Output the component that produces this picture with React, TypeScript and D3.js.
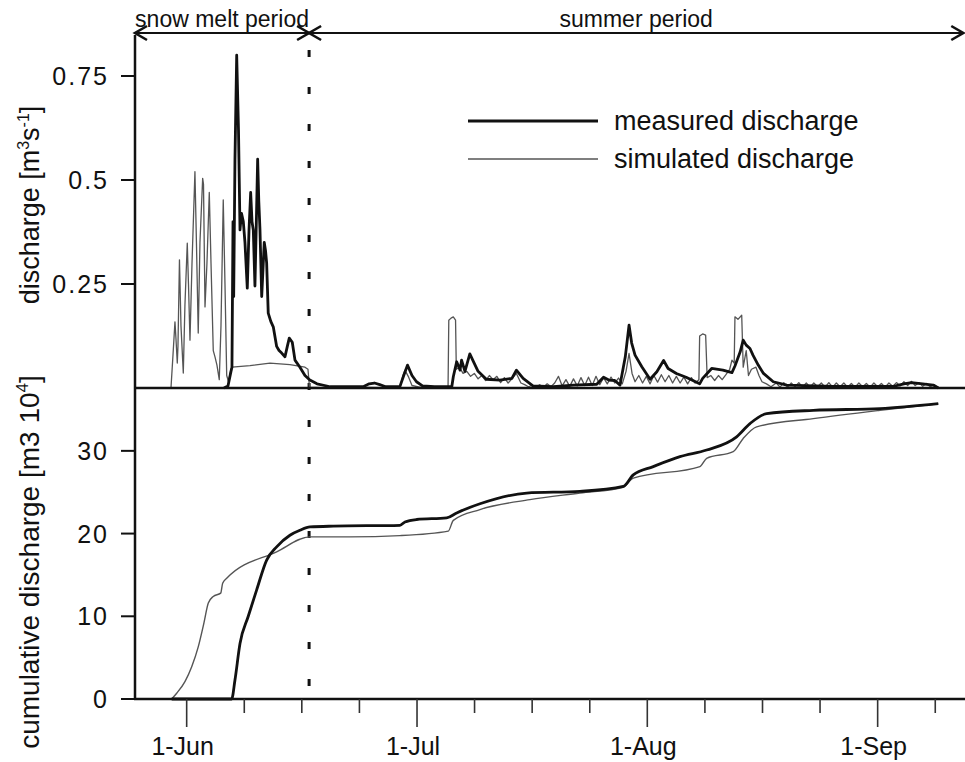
import React from "react";
import * as d3 from "d3";

const W = 965;
const H = 762;

// ---- tick labels / ticks ----
const monthLabels = ["1-Jun", "1-Jul", "1-Aug", "1-Sep"];
const monthTickDays = [0, 30.67, 61.33, 92];
const minorTickDays = [7.67, 15.33, 23, 38.33, 46, 53.67, 69, 76.67, 84.33, 99.67];
const dischargeTicks = [0.25, 0.5, 0.75];
const dischargeTickLabels = ["0.25", "0.5", "0.75"];
const cumulativeTicks = [0, 10, 20, 30];
const cumulativeTickLabels = ["0", "10", "20", "30"];

// ---- periods (days since 1-Jun) ----
const periodBoundaryDay = 16.3;
const periodNames = ["snow melt period", "summer period"];
const periodStarts = [-6.88, 16.3];
const periodEnds = [16.3, 103.4];

const legendLabels = ["measured discharge", "simulated discharge"];

// ---- discharge [m3/s] : [day since 1-Jun, value] ----
const measuredQ: [number, number][] = [
  [4.97, 0], [5.5, 0.005], [5.9, 0.04], [6.03, 0.05], [6.17, 0.4], [6.26, 0.22], [6.43, 0.55],
  [6.66, 0.8], [6.9, 0.62], [7.1, 0.38], [7.3, 0.42], [7.54, 0.4], [7.76, 0.35], [8.07, 0.24],
  [8.3, 0.38], [8.52, 0.47], [8.7, 0.4], [8.87, 0.38], [9.09, 0.245], [9.3, 0.42], [9.45, 0.55],
  [9.6, 0.45], [9.76, 0.38], [9.99, 0.22], [10.2, 0.3], [10.33, 0.35], [10.5, 0.33], [10.65, 0.3],
  [10.86, 0.18], [11.2, 0.16], [11.53, 0.147], [11.98, 0.1], [12.3, 0.09], [12.65, 0.084],
  [13.09, 0.075], [13.4, 0.1], [13.66, 0.12], [14.06, 0.11], [14.42, 0.067], [15.08, 0.05],
  [15.75, 0.03], [16.4, 0.019], [17.35, 0.01], [19.1, 0.003], [23.5, 0.003], [24.3, 0.01],
  [25.0, 0.012], [25.7, 0.008], [26.5, 0.003], [28.4, 0.004], [28.9, 0.03], [29.4, 0.055],
  [30.0, 0.03], [30.6, 0.015], [31.4, 0.005], [33, 0.003], [35.3, 0.003], [35.5, 0.027],
  [35.95, 0.063], [36.4, 0.043], [36.6, 0.067], [37.05, 0.04], [37.7, 0.082], [38.2, 0.063],
  [38.8, 0.04], [39.9, 0.021], [41.7, 0.019], [43.3, 0.023], [43.9, 0.043], [44.8, 0.023],
  [46.1, 0.005], [48.8, 0.003], [51.5, 0.007], [54.6, 0.009], [55.5, 0.026], [56.2, 0.019],
  [57.0, 0.018], [57.7, 0.007], [58.4, 0.075], [58.9, 0.151], [59.25, 0.108], [59.7, 0.079],
  [60.6, 0.051], [61.7, 0.021], [62.6, 0.039], [63.5, 0.066], [64.1, 0.047], [65.2, 0.035],
  [66.5, 0.026], [68.3, 0.01], [68.7, 0.023], [69.9, 0.047], [71.4, 0.043], [72.6, 0.037],
  [73.0, 0.053], [73.7, 0.087], [74.1, 0.115], [74.5, 0.103], [75.0, 0.095], [75.4, 0.079],
  [76.1, 0.055], [76.8, 0.035], [78.1, 0.015], [79.9, 0.007], [86.1, 0.004], [94.1, 0.004],
  [95.5, 0.01], [96.5, 0.013], [98, 0.01], [99.4, 0.007], [100.1, 0.0],
];

const simulatedQ: [number, number][] = [
  [-2.09, 0], [-1.82, 0.08], [-1.56, 0.159], [-1.43, 0.12], [-1.25, 0.06], [-1.16, 0.1],
  [-0.96, 0.308], [-0.76, 0.15], [-0.45, 0.036], [-0.23, 0.2], [0.08, 0.348], [0.24, 0.25],
  [0.44, 0.115], [0.71, 0.3], [1.1, 0.52], [1.3, 0.35], [1.54, 0.132], [1.77, 0.35],
  [2.13, 0.504], [2.24, 0.49], [2.44, 0.195], [2.7, 0.3], [3.01, 0.47], [3.24, 0.3],
  [3.54, 0.09], [3.77, 0.075], [4.03, 0.055], [4.34, 0.02], [4.57, 0.15], [4.87, 0.452],
  [5.1, 0.25], [5.33, 0.03], [5.57, 0.015], [5.9, 0.045], [6.03, 0.05], [8.43, 0.054],
  [11.09, 0.06], [13.75, 0.056], [15.75, 0.05], [16.15, 0.045], [16.35, 0.002], [18, 0.001],
  [22, 0.002], [26, 0.001], [28.4, 0.001], [28.8, 0.03], [29.06, 0.043], [29.5, 0.028],
  [30.0, 0.006], [31, 0.002], [33, 0.002], [34.8, 0.002], [34.9, 0.163], [35.2, 0.168],
  [35.5, 0.171], [35.8, 0.163], [35.9, 0.045], [36.3, 0.05], [36.8, 0.035], [37.3, 0.04],
  [37.8, 0.028], [38.3, 0.035], [38.8, 0.022], [39.3, 0.03], [39.8, 0.018], [40.3, 0.03],
  [40.8, 0.02], [41.3, 0.028], [41.8, 0.013], [42.3, 0.025], [42.8, 0.012], [43.3, 0.022],
  [43.9, 0.035], [44.5, 0.012], [45, 0.008], [45.5, 0.003], [46, 0.006], [46.5, 0.002],
  [47, 0.008], [47.5, 0.002], [48, 0.01], [48.5, 0.003], [49, 0.012], [49.5, 0.028],
  [50, 0.005], [50.5, 0.02], [51, 0.004], [51.5, 0.022], [52, 0.005], [52.5, 0.025],
  [53, 0.006], [53.5, 0.026], [54, 0.006], [54.5, 0.028], [55, 0.008], [55.5, 0.025],
  [56, 0.01], [56.5, 0.026], [57, 0.012], [57.5, 0.024], [58, 0.01], [58.5, 0.04],
  [58.9, 0.083], [59.3, 0.035], [59.7, 0.015], [60.2, 0.03], [60.7, 0.012], [61.2, 0.028],
  [61.7, 0.01], [62.2, 0.03], [62.7, 0.014], [63.2, 0.032], [63.7, 0.015], [64.2, 0.03],
  [64.7, 0.012], [65.2, 0.028], [65.7, 0.012], [66.2, 0.026], [66.7, 0.01], [67.2, 0.025],
  [67.7, 0.012], [68.2, 0.02], [68.3, 0.125], [68.7, 0.13], [69.1, 0.127], [69.3, 0.025],
  [69.8, 0.03], [70.3, 0.018], [70.8, 0.03], [71.3, 0.02], [71.8, 0.032], [72.3, 0.045],
  [72.6, 0.067], [72.9, 0.06], [73.0, 0.171], [73.4, 0.165], [73.9, 0.175], [74.1, 0.05],
  [74.5, 0.09], [74.8, 0.03], [75.2, 0.045], [75.8, 0.05], [76.2, 0.03], [76.6, 0.015],
  [77.2, 0.01], [77.8, 0.003], [78.5, 0.012], [79, 0.002], [79.5, 0.013], [80, 0.002],
  [80.5, 0.012], [81, 0.003], [81.5, 0.013], [82, 0.002], [82.5, 0.012], [83, 0.002],
  [83.5, 0.012], [84, 0.003], [84.5, 0.012], [85, 0.002], [85.5, 0.013], [86, 0.002],
  [86.5, 0.012], [87, 0.003], [87.5, 0.012], [88, 0.002], [88.5, 0.011], [89, 0.002],
  [89.5, 0.012], [90, 0.003], [90.5, 0.011], [91, 0.002], [91.5, 0.012], [92, 0.003],
  [92.5, 0.011], [93, 0.002], [93.5, 0.012], [94, 0.004], [94.5, 0.013], [95, 0.005],
  [95.5, 0.015], [96, 0.006], [96.5, 0.016], [97, 0.006], [97.5, 0.013], [98, 0.004],
  [98.5, 0.011], [99, 0.003], [99.5, 0.008], [100.1, 0.0],
];

// ---- cumulative discharge [m3 10^4] ----
const measuredCum: [number, number][] = [
  [-2.0, 0], [5.99, 0], [6.43, 2.3], [7.1, 6.7], [8.2, 10.0], [9.32, 13.2], [10.65, 16.8],
  [11.98, 18.4], [13.75, 19.8], [15.08, 20.4], [16.42, 20.8], [19.52, 20.9], [28.4, 21.0],
  [29.06, 21.4], [30.62, 21.7], [34.62, 21.9], [35.95, 22.5], [39.05, 23.6], [45.27, 24.9],
  [52.36, 25.1], [58.13, 25.7], [59.46, 27.1], [62.12, 28.1], [65.68, 29.3], [69.23, 30.1],
  [73.22, 31.7], [75.0, 33.3], [77.22, 34.5], [83.43, 34.9], [92.31, 35.1], [100.07, 35.7],
];

const simulatedCum: [number, number][] = [
  [-2.0, 0], [-1.33, 0.7], [-0.23, 2.1], [0.67, 3.9], [1.54, 6.3], [2.3, 9.2], [2.88, 11.6],
  [3.54, 12.4], [4.53, 12.8], [4.79, 14.0], [5.33, 14.6], [11.98, 17.8], [16.42, 19.6],
  [21.74, 19.6], [28.4, 19.75], [34.83, 20.3], [35.5, 21.6], [39.05, 22.9], [45.7, 24.1],
  [52.36, 24.9], [58.13, 25.6], [59.46, 26.7], [68.34, 28.1], [69.23, 29.1], [72.77, 29.9],
  [74.1, 31.5], [75.89, 32.9], [83.43, 33.9], [92.31, 34.9], [100.07, 35.7],
];

const FONT = "'Liberation Sans', Arial, Helvetica, sans-serif";

export default function App() {
  const left = 135;
  const right = 965;
  const topY0 = 34.4;
  const midY = 388;
  const botY = 699;

  const x = d3.scaleLinear().domain([-6.88, 103.63]).range([left, right]);
  const yQ = d3.scaleLinear().domain([0, 0.85]).range([midY, topY0]);
  const yC = d3.scaleLinear().domain([0, 37.6]).range([botY, midY]);

  const lineQ = d3
    .line<[number, number]>()
    .x((d) => x(d[0]))
    .y((d) => yQ(d[1]));
  const lineC = d3
    .line<[number, number]>()
    .x((d) => x(d[0]))
    .y((d) => yC(d[1]))
    .curve(d3.curveMonotoneX);

  const arrowY = 33;
  const head = (tx: number, dir: number) =>
    `M${tx + dir * 12},${arrowY - 7}L${tx},${arrowY}L${tx + dir * 12},${arrowY + 7}`;

  const bx = x(periodBoundaryDay);

  return (
    <svg
      width={W}
      height={H}
      viewBox={`0 0 ${W} ${H}`}
      style={{ position: "absolute", left: 0, top: 0, background: "#fff" }}
      fontFamily={FONT}
    >
      <rect x={0} y={0} width={W} height={H} fill="#fff" />

      {/* period arrows */}
      {periodNames.map((name, i) => {
        const x0 = x(periodStarts[i]);
        const x1 = x(periodEnds[i]);
        return (
          <g key={name}>
            <line x1={x0} x2={x1} y1={arrowY} y2={arrowY} stroke="#111" strokeWidth={2} />
            <path d={head(x0, 1)} fill="none" stroke="#111" strokeWidth={2.6} />
            <path d={head(x1, -1)} fill="none" stroke="#111" strokeWidth={2.6} />
            <text
              x={(x0 + x1) / 2}
              y={27}
              fontSize={23}
              textAnchor="middle"
              fill="#111"
            >
              {name}
            </text>
          </g>
        );
      })}

      {/* dashed boundary */}
      <line
        x1={bx}
        x2={bx}
        y1={50}
        y2={706}
        stroke="#111"
        strokeWidth={3}
        strokeDasharray="7 30"
      />

      {/* simulated then measured discharge */}
      <path d={lineQ(simulatedQ) || ""} fill="none" stroke="#555" strokeWidth={1.3} strokeLinejoin="round" />
      <path d={lineQ(measuredQ) || ""} fill="none" stroke="#111" strokeWidth={2.8} strokeLinejoin="round" />

      {/* cumulative */}
      <path d={lineC(simulatedCum) || ""} fill="none" stroke="#555" strokeWidth={1.4} strokeLinejoin="round" />
      <path d={lineC(measuredCum) || ""} fill="none" stroke="#111" strokeWidth={2.8} strokeLinejoin="round" />

      {/* axes frame */}
      <line x1={left} x2={left} y1={35} y2={botY} stroke="#111" strokeWidth={2.5} />
      <line x1={left - 1} x2={right} y1={midY} y2={midY} stroke="#111" strokeWidth={2.5} />
      <line x1={left - 1} x2={right} y1={botY} y2={botY} stroke="#111" strokeWidth={2.5} />

      {/* top y ticks */}
      {dischargeTicks.map((t, i) => (
        <g key={"q" + t}>
          <line x1={left - 14} x2={left} y1={yQ(t)} y2={yQ(t)} stroke="#111" strokeWidth={2} />
          <text
            x={109}
            y={yQ(t) + 9}
            fontSize={25}
            letterSpacing={2}
            textAnchor="end"
            fill="#111"
          >
            {dischargeTickLabels[i]}
          </text>
        </g>
      ))}

      {/* bottom y ticks */}
      {cumulativeTicks.map((t, i) => (
        <g key={"c" + t}>
          <line x1={left - 14} x2={left} y1={yC(t)} y2={yC(t)} stroke="#111" strokeWidth={2} />
          <text
            x={109}
            y={yC(t) + 9}
            fontSize={25}
            letterSpacing={2}
            textAnchor="end"
            fill="#111"
          >
            {cumulativeTickLabels[i]}
          </text>
        </g>
      ))}

      {/* x ticks */}
      {monthTickDays.map((d, i) => (
        <g key={"m" + i}>
          <line x1={x(d)} x2={x(d)} y1={botY} y2={botY + 28} stroke="#333" strokeWidth={1.6} />
          <text x={x(d) - 4} y={755} fontSize={25} textAnchor="middle" fill="#111">
            {monthLabels[i]}
          </text>
        </g>
      ))}
      {minorTickDays.map((d) => (
        <line key={"n" + d} x1={x(d)} x2={x(d)} y1={botY} y2={botY + 14} stroke="#333" strokeWidth={1.6} />
      ))}

      {/* y axis titles */}
      <text transform="translate(39,205) rotate(-90)" fontSize={27} textAnchor="middle" fill="#111">
        discharge [m
        <tspan fontSize={16} dy={-10}>3</tspan>
        <tspan dy={10}>s</tspan>
        <tspan fontSize={16} dy={-10}>-1</tspan>
        <tspan dy={10}>]</tspan>
      </text>
      <text transform="translate(39,562) rotate(-90)" fontSize={28} textAnchor="middle" fill="#111">
        cumulative discharge [m3 10
        <tspan fontSize={17} dy={-11}>4</tspan>
        <tspan dy={11}>]</tspan>
      </text>

      {/* legend */}
      <line x1={468} x2={598} y1={121} y2={121} stroke="#111" strokeWidth={3} />
      <text x={614} y={130} fontSize={27} fill="#111">{legendLabels[0]}</text>
      <line x1={468} x2={598} y1={159} y2={159} stroke="#555" strokeWidth={1.5} />
      <text x={614} y={168} fontSize={27} fill="#111">{legendLabels[1]}</text>
    </svg>
  );
}
